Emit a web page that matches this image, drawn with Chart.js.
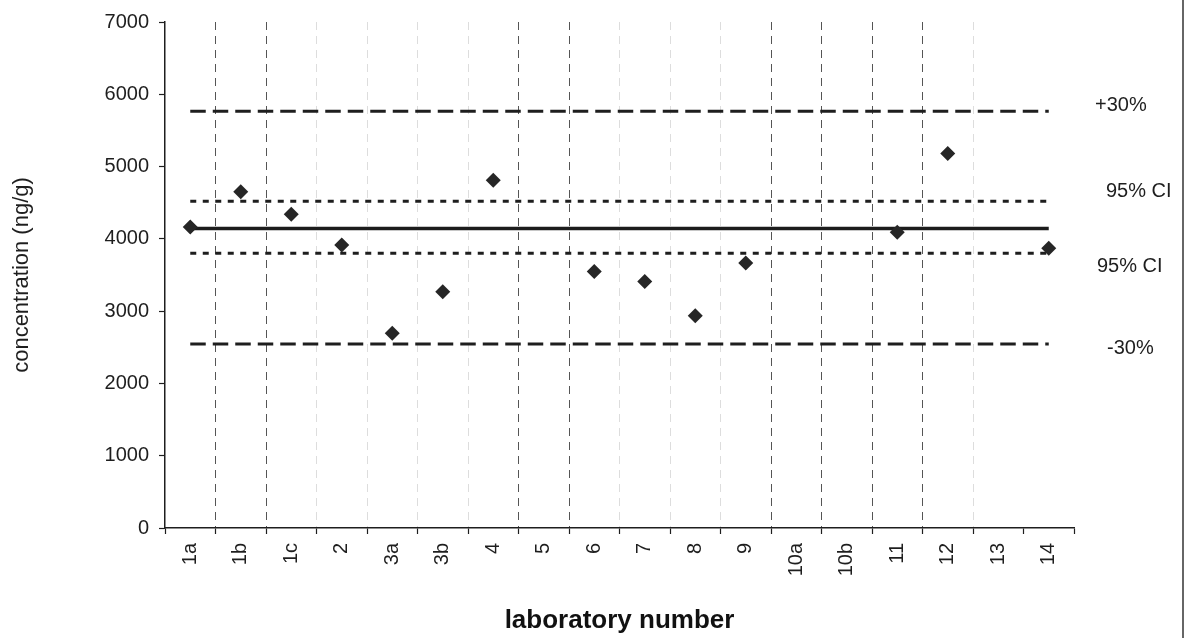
<!DOCTYPE html>
<html>
<head>
<meta charset="utf-8">
<script src="https://cdn.jsdelivr.net/npm/chart.js@4/dist/chart.umd.min.js"></script>
<style>
  html, body { margin: 0; padding: 0; background: #ffffff; }
  #wrap { width: 1187px; height: 638px; position: relative; }
</style>
</head>
<body>
<div id="wrap"><canvas id="c" width="1187" height="638"></canvas></div>
<script>
// ---- data ----
const categories = ['1a','1b','1c','2','3a','3b','4','5','6','7','8','9','10a','10b','11','12','13','14'];
const concentrations = [4165, 4650, 4340, 3915, 2695, 3270, 4810, null, 3550, 3410, 2935, 3665, null, null, 4090, 5180, null, 3870];
const yTickValues = [0, 1000, 2000, 3000, 4000, 5000, 6000, 7000];
const yTickLabels = ['0', '1000', '2000', '3000', '4000', '5000', '6000', '7000'];
const meanValue = 4145;
const ciUpper = 4520;
const ciLower = 3800;
const plus30 = 5765;
const minus30 = 2545;
const refLabels = ['+30%', '95% CI', '95% CI', '-30%'];
const refValues = [plus30, ciUpper, ciLower, minus30];

// ---- styling helpers ----
const FONT = '"Liberation Sans", Arial, Helvetica, sans-serif';
const INK = '#1e1e1e';
const strongGrid = [1, 2, 7, 8, 12, 13, 14, 15];
const faintGrid = [3, 4, 5, 6, 9, 10, 11, 16];
const labelOffsets = [[1095, -6], [1106, -10], [1097, 13], [1107, 4]];

function spanLine(value) {
  return [{ x: categories[0], y: value }, { x: categories[categories.length - 1], y: value }];
}

const refPlugin = {
  id: 'refLabels',
  afterDraw(chart) {
    const ctx = chart.ctx;
    const y = chart.scales.y;
    ctx.save();
    ctx.fillStyle = INK;
    ctx.font = '20px ' + FONT;
    ctx.textAlign = 'left';
    ctx.textBaseline = 'middle';
    refLabels.forEach((t, i) => {
      const py = y.getPixelForValue(refValues[i]) + labelOffsets[i][1];
      ctx.fillText(t, labelOffsets[i][0], py);
    });
    // right frame line
    ctx.strokeStyle = '#333';
    ctx.lineWidth = 1.5;
    ctx.beginPath();
    ctx.moveTo(1183, 0);
    ctx.lineTo(1183, 638);
    ctx.stroke();
    ctx.restore();
  }
};

new Chart(document.getElementById('c'), {
  type: 'line',
  data: {
    labels: categories,
    datasets: [
      {
        label: 'laboratories',
        data: concentrations,
        showLine: false,
        pointStyle: 'rectRot',
        pointRadius: 7.5,
        pointBackgroundColor: '#262626',
        pointBorderColor: '#262626',
        pointBorderWidth: 0,
        order: 0
      },
      {
        label: 'mean',
        data: spanLine(meanValue),
        borderColor: '#1c1c1c',
        borderWidth: 3.5,
        pointRadius: 0,
        order: 1
      },
      {
        label: 'CI upper',
        data: spanLine(ciUpper),
        borderColor: INK,
        borderWidth: 3,
        borderDash: [6, 6.5],
        pointRadius: 0,
        order: 2
      },
      {
        label: 'CI lower',
        data: spanLine(ciLower),
        borderColor: INK,
        borderWidth: 3,
        borderDash: [6, 6.5],
        pointRadius: 0,
        order: 2
      },
      {
        label: '+30%',
        data: spanLine(plus30),
        borderColor: INK,
        borderWidth: 3,
        borderDash: [15.5, 7],
        pointRadius: 0,
        order: 3
      },
      {
        label: '-30%',
        data: spanLine(minus30),
        borderColor: INK,
        borderWidth: 3,
        borderDash: [15.5, 7],
        pointRadius: 0,
        order: 3
      }
    ]
  },
  options: {
    responsive: false,
    animation: false,
    devicePixelRatio: 1,
    layout: { padding: { left: 0, right: 113, top: 21, bottom: 0 } },
    plugins: { legend: { display: false }, tooltip: { enabled: false } },
    scales: {
      x: {
        type: 'category',
        offset: true,
        grid: {
          offset: true,
          drawOnChartArea: true,
          lineWidth: 1,
          color: (c) => {
            if (strongGrid.includes(c.index)) return '#555555';
            if (faintGrid.includes(c.index)) return '#dddddd';
            return 'rgba(0,0,0,0)';
          },
          tickLength: 6,
          tickColor: INK,
          tickWidth: 1.2
        },
        border: { display: true, color: INK, width: 1.5, dash: [8, 6] },
        ticks: {
          minRotation: 90, maxRotation: 90, autoSkip: false, padding: 9,
          color: INK, font: { family: FONT, size: 20 }
        },
        title: {
          display: true, text: 'laboratory number', color: '#111',
          font: { family: FONT, size: 26, weight: 'bold' },
          padding: { top: 0, bottom: 2 }
        },
        afterFit(s) { s.height = 110; }
      },
      y: {
        min: 0, max: 7000,
        afterBuildTicks(s) { s.ticks = yTickValues.map(v => ({ value: v })); },
        grid: { drawOnChartArea: false, tickLength: 6, tickColor: INK, tickWidth: 1.2 },
        border: { display: true, color: INK, width: 1.5 },
        ticks: {
          padding: 10, color: INK, font: { family: FONT, size: 20 },
          callback: (v, i) => yTickLabels[i]
        },
        title: {
          display: true, text: 'concentration (ng/g)', color: INK,
          font: { family: FONT, size: 22 },
          padding: { top: 9, bottom: 0 }
        },
        afterFit(s) { s.width = 165; }
      }
    }
  },
  plugins: [refPlugin]
});
</script>
</body>
</html>
